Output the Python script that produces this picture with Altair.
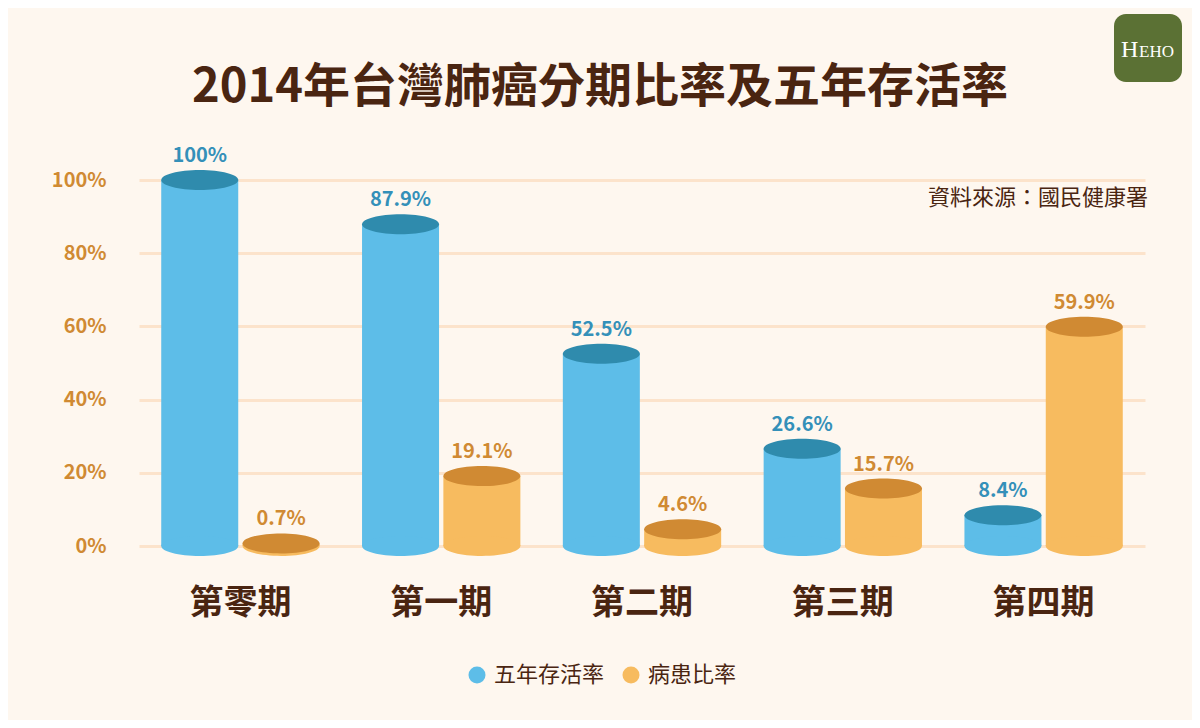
import altair as alt
import pandas as pd

stages = ["第零期", "第一期", "第二期", "第三期", "第四期"]
survival = [100, 87.9, 52.5, 26.6, 8.4]
ratio = [0.7, 19.1, 4.6, 15.7, 59.9]
series = ["五年存活率", "病患比率"]
y_ticks = [0, 20, 40, 60, 80, 100]
title_text = "2014年台灣肺癌分期比率及五年存活率"
source_text = "資料來源：國民健康署"

FONT = "Noto Sans CJK TC"
BROWN = "#4A2511"
BLUE = "#5DBDE8"
BLUE_D = "#2F8BAD"
ORANGE = "#F7BB5F"
ORANGE_D = "#D08A33"
LBL_BLUE = "#3490B9"
LBL_ORANGE = "#D08A33"
GRID = "#FCE3CB"
BG = "#FEF7EF"
GREEN = "#5B7134"

rows = []
for s, a, b in zip(stages, survival, ratio):
    rows.append({"stage": s, "series": series[0], "value": a, "label": f"{a:g}%"})
    rows.append({"stage": s, "series": series[1], "value": b, "label": f"{b:g}%"})
df = pd.DataFrame(rows)

ELLIPSE = "M -1 0 A 1 0.26 0 1 0 1 0 A 1 0.26 0 1 0 -1 0 Z"
BAR_W = 77

x = alt.X(
    "stage:N", sort=stages,
    scale=alt.Scale(range=[17, 1023], paddingInner=0.19, paddingOuter=0.1),
    axis=alt.Axis(title=None, labelFontSize=34, labelFontWeight="bold", labelColor=BROWN,
                  labelFont=FONT, labelPadding=40, domain=False, ticks=False, labelAngle=0,
                  grid=False),
)
xo = alt.XOffset("series:N", sort=series, scale=alt.Scale(paddingInner=0, paddingOuter=0))
y = alt.Y(
    "value:Q", scale=alt.Scale(domain=[0, 100]),
    axis=alt.Axis(title=None, values=y_ticks, labelExpr="datum.value + '%'",
                  labelFontSize=20, labelFontWeight="bold", labelColor=LBL_ORANGE,
                  labelFont=FONT, labelPadding=16, domain=False, ticks=False,
                  grid=True, gridColor=GRID, gridWidth=3),
)
color = alt.Color(
    "series:N", sort=series,
    scale=alt.Scale(domain=series, range=[BLUE, ORANGE]),
    legend=alt.Legend(orient="none", legendX=344, legendY=484, direction="horizontal",
                      title=None, symbolType="circle", symbolSize=289, labelFontSize=22,
                      labelColor=BROWN, labelFont=FONT, columnPadding=15, labelOffset=6,
                      padding=0, symbolStrokeWidth=0, symbolOpacity=1),
)

base = alt.Chart(df)

bars = base.mark_bar(size=BAR_W).encode(x=x, xOffset=xo, y=y, color=color)
bottoms = base.mark_point(shape=ELLIPSE, size=BAR_W * BAR_W, filled=True, opacity=1,
                          strokeWidth=0).encode(x=x, xOffset=xo, y=alt.datum(0), color=color)
tops = base.mark_point(shape=ELLIPSE, size=BAR_W * BAR_W, filled=True, opacity=1,
                       strokeWidth=0).encode(
    x=x, xOffset=xo, y=y,
    fill=alt.Fill("series:N", sort=series,
                  scale=alt.Scale(domain=series, range=[BLUE_D, ORANGE_D]), legend=None),
)
labels = base.mark_text(dy=-14, baseline="bottom", fontSize=20, fontWeight="bold",
                        font=FONT).encode(
    x=x, xOffset=xo, y=y, text="label:N",
    color=alt.condition(alt.datum.series == series[0], alt.value(LBL_BLUE), alt.value(LBL_ORANGE)),
)

one = pd.DataFrame({"t": [title_text], "s": [source_text], "h": ["H"], "e": ["EHO"]})
deco = alt.Chart(one)
title = deco.mark_text(fontSize=47, fontWeight="bold", color=BROWN, font=FONT,
                       align="center", baseline="middle").encode(
    text="t:N", x=alt.value(478), y=alt.value(-92))
source = deco.mark_text(fontSize=22, color=BROWN, font=FONT, align="right",
                        baseline="middle").encode(
    text="s:N", x=alt.value(1026), y=alt.value(18))
logo_box = deco.mark_rect(color=GREEN, cornerRadius=12).encode(
    x=alt.value(992), x2=alt.value(1060), y=alt.value(-166), y2=alt.value(-98))
logo_h = deco.mark_text(fontSize=24, color="white", font="Liberation Serif", align="left",
                        baseline="alphabetic").encode(
    text="h:N", x=alt.value(999), y=alt.value(-123))
logo_e = deco.mark_text(fontSize=17, color="white", font="Liberation Serif", align="left",
                        baseline="alphabetic").encode(
    text="e:N", x=alt.value(1017), y=alt.value(-123))

chart = alt.layer(bars, bottoms, tops, labels, title, source, logo_box, logo_h, logo_e).properties(
    width=1028, height=366,
    autosize=alt.AutoSizeParams(type="none"),
    padding={"left": 114, "top": 172, "right": 42, "bottom": 174},
    background=BG,
).configure(font=FONT).configure_view(stroke=None, strokeWidth=0)

chart.save("out.html", embed_options={"renderer": "svg", "actions": False})
